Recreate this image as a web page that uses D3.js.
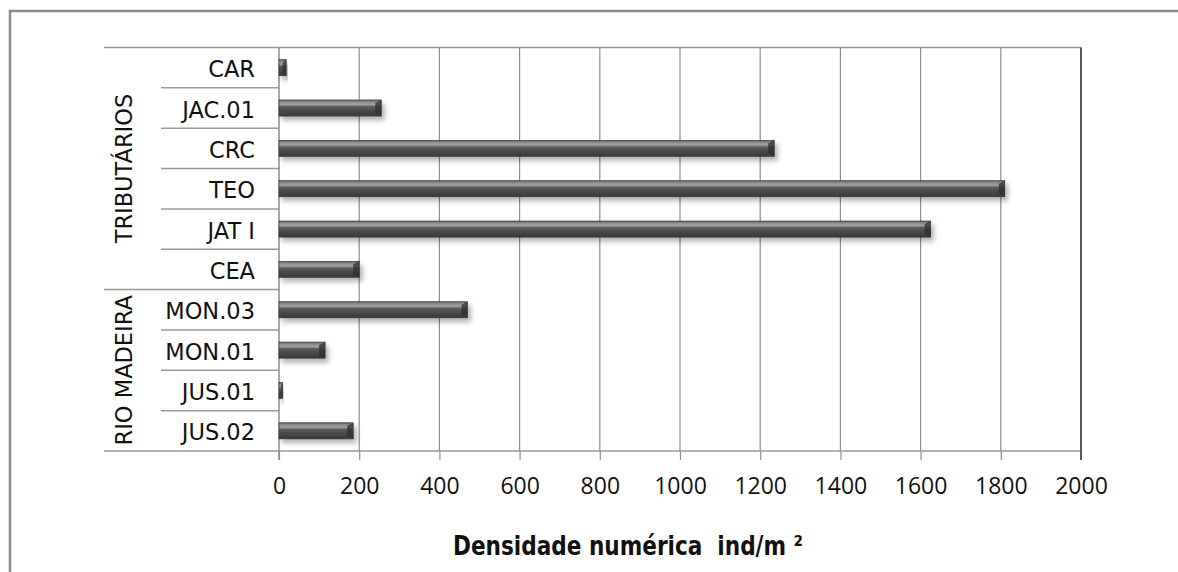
<!DOCTYPE html>
<html>
<head>
<meta charset="utf-8">
<script src="https://cdn.jsdelivr.net/npm/d3@7"></script>
<style>
  html, body { margin: 0; padding: 0; background: #fff; overflow: hidden; }
  svg { display: block; }
</style>
</head>
<body>
<div id="chart"></div>
<script>
// Data
const categories = ["CAR", "JAC.01", "CRC", "TEO", "JAT I", "CEA", "MON.03", "MON.01", "JUS.01", "JUS.02"];
const values = [18, 255, 1235, 1810, 1625, 200, 470, 115, 9, 185];
const groupNames = ["TRIBUTÁRIOS", "RIO MADEIRA"];
const groupFirst = ["CAR", "MON.03"];
const groupLast = ["CEA", "JUS.02"];
const xTicks = [0, 200, 400, 600, 800, 1000, 1200, 1400, 1600, 1800, 2000];
const xTitle = "Densidade numérica  ind/m ²";

const data = categories.map((c, i) => ({ cat: c, value: values[i] }));

const width = 1178;
const height = 572;
const margin = { top: 47.5, left: 279, right: 97, bottom: 121 };
const innerWidth = width - margin.left - margin.right;
const innerHeight = height - margin.top - margin.bottom;

const svg = d3.select("#chart")
    .append("svg")
    .attr("width", width)
    .attr("height", height);

// outer frame (only top and left show in the picture)
svg.append("path")
    .attr("d", `M10,${height + 5}V11H${width + 5}`)
    .attr("fill", "none")
    .attr("stroke", "#8c8c8c")
    .attr("stroke-width", 2.5);

// defs: bar gradient and shadow
const defs = svg.append("defs");
const grad = defs.append("linearGradient")
    .attr("id", "barGrad")
    .attr("x1", 0).attr("y1", 0).attr("x2", 0).attr("y2", 1);
[[0, "#5c5c5c"], [0.12, "#8a8a8a"], [0.28, "#a3a3a3"], [0.42, "#5a5a5a"],
 [0.7, "#474747"], [1, "#3a3a3a"]].forEach(s => {
    grad.append("stop").attr("offset", s[0]).attr("stop-color", s[1]);
});
const shadow = defs.append("filter")
    .attr("id", "shadow")
    .attr("x", "-10%").attr("y", "-40%")
    .attr("width", "130%").attr("height", "220%");
shadow.append("feDropShadow")
    .attr("dx", 3).attr("dy", 4)
    .attr("stdDeviation", 2.5)
    .attr("flood-color", "#000")
    .attr("flood-opacity", 0.3);

const g = svg.append("g")
    .attr("transform", `translate(${margin.left},${margin.top})`);

// Scales
const xScale = d3.scaleLinear()
    .domain([0, 2000])
    .range([0, innerWidth]);

const rowScale = d3.scaleBand()
    .domain(categories)
    .range([0, innerHeight])
    .padding(0);

const barScale = d3.scaleBand()
    .domain(categories)
    .range([0, innerHeight])
    .paddingInner(0.6)
    .paddingOuter(0.3);

// Vertical grid lines
g.append("g")
    .selectAll("line")
    .data(xTicks.slice(1, -1))
    .join("line")
    .attr("x1", d => xScale(d)).attr("x2", d => xScale(d))
    .attr("y1", 0).attr("y2", innerHeight)
    .attr("stroke", "#8f8f8f")
    .attr("stroke-width", 1.2);

// Bottom axis with ticks
const bottomAxis = d3.axisBottom(xScale)
    .tickValues(xTicks)
    .tickSize(9)
    .tickPadding(18)
    .tickFormat(d3.format("d"));

const axisG = g.append("g")
    .attr("transform", `translate(0,${innerHeight})`)
    .call(bottomAxis);
axisG.select(".domain").remove();
axisG.selectAll(".tick line").attr("stroke", "#8f8f8f").attr("stroke-width", 1.2);
axisG.selectAll(".tick text")
    .attr("font-family", "'Open Sans', sans-serif")
    .attr("font-size", 23)
    .attr("fill", "#111");

// table lines on the left: top, bottom, row and group separators
const tableLeft = 104 - margin.left;
const catLeft = 161 - margin.left;

g.append("line")
    .attr("x1", tableLeft).attr("x2", innerWidth)
    .attr("y1", 0).attr("y2", 0)
    .attr("stroke", "#999").attr("stroke-width", 1.5);
g.append("line")
    .attr("x1", tableLeft).attr("x2", innerWidth)
    .attr("y1", innerHeight).attr("y2", innerHeight)
    .attr("stroke", "#999").attr("stroke-width", 1.5);

g.append("g")
    .selectAll("line")
    .data(categories.slice(1))
    .join("line")
    .attr("x1", d => groupFirst.includes(d) ? tableLeft : catLeft)
    .attr("x2", 0)
    .attr("y1", d => rowScale(d)).attr("y2", d => rowScale(d))
    .attr("stroke", "#999")
    .attr("stroke-width", 1.5);

// left axis line and right border
g.append("line")
    .attr("x1", 0).attr("x2", 0)
    .attr("y1", 0).attr("y2", innerHeight + 9)
    .attr("stroke", "#8f8f8f").attr("stroke-width", 1.5);
g.append("line")
    .attr("x1", innerWidth).attr("x2", innerWidth)
    .attr("y1", 0).attr("y2", innerHeight + 9)
    .attr("stroke", "#5a5a5a").attr("stroke-width", 2);

// Category labels
g.append("g")
    .selectAll("text")
    .data(categories)
    .join("text")
    .attr("x", 255 - margin.left)
    .attr("y", d => rowScale(d) + rowScale.bandwidth() / 2 + 9.5)
    .attr("text-anchor", "end")
    .attr("font-family", "'DejaVu Sans', sans-serif")
    .attr("font-size", 22.5)
    .attr("fill", "#111")
    .text(d => d);

// Group labels (rotated)
g.append("g")
    .selectAll("text")
    .data(groupNames)
    .join("text")
    .attr("transform", (d, i) => {
        const y0 = rowScale(groupFirst[i]);
        const y1 = rowScale(groupLast[i]) + rowScale.bandwidth();
        return `translate(${131.5 - margin.left},${(y0 + y1) / 2}) rotate(-90)`;
    })
    .attr("text-anchor", "middle")
    .attr("font-family", "'DejaVu Sans', sans-serif")
    .attr("font-size", 22.5)
    .attr("fill", "#111")
    .text(d => d);

// Bars
const bars = g.append("g")
    .selectAll("g")
    .data(data)
    .join("g")
    .attr("filter", "url(#shadow)");

bars.append("rect")
    .attr("x", 0)
    .attr("y", d => barScale(d.cat))
    .attr("width", d => xScale(d.value))
    .attr("height", barScale.bandwidth())
    .attr("fill", "url(#barGrad)")
    .attr("stroke", "#333")
    .attr("stroke-width", 0.6);

// bevelled right end
bars.append("path")
    .attr("d", d => {
        const x1 = xScale(d.value);
        const y0 = barScale(d.cat);
        const h = barScale.bandwidth();
        const b = Math.min(6, x1 / 2);
        return `M${x1 - b},${y0 + 3}L${x1},${y0}V${y0 + h}L${x1 - b},${y0 + h - 3}Z`;
    })
    .attr("fill", "#2f2f2f")
    .attr("opacity", 0.75);

// X axis title
svg.append("text")
    .attr("x", 628)
    .attr("y", 555)
    .attr("text-anchor", "middle")
    .attr("font-family", "'Liberation Sans Narrow', 'DejaVu Sans Condensed', 'Liberation Sans', sans-serif")
    .attr("font-weight", "bold")
    .attr("font-size", 27)
    .attr("textLength", 350)
    .attr("lengthAdjust", "spacingAndGlyphs")
    .style("white-space", "pre")
    .attr("fill", "#111")
    .text(xTitle);
</script>
</body>
</html>
